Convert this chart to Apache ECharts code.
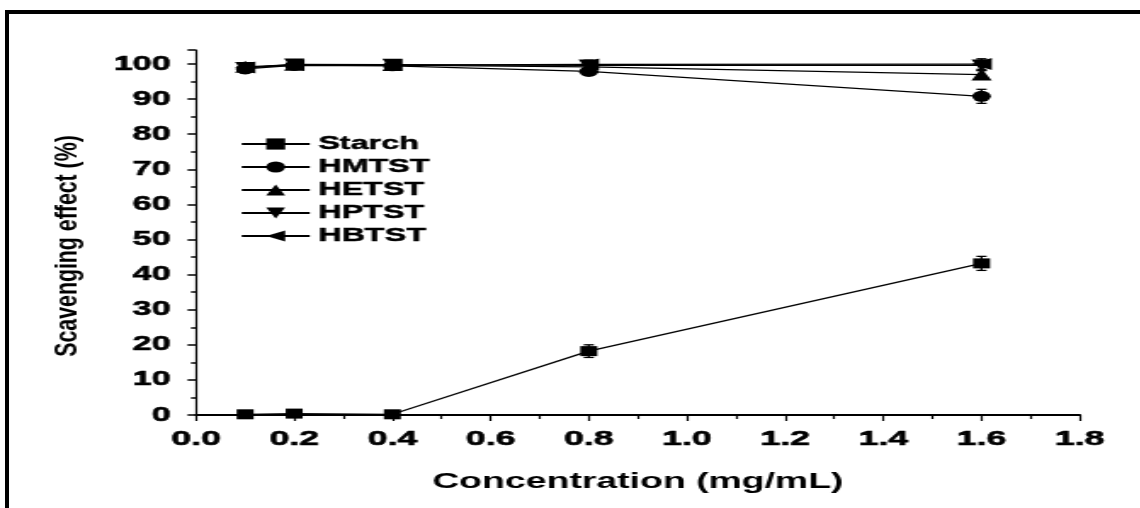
<!DOCTYPE html>
<html>
<head>
<meta charset="utf-8">
<script src="https://cdn.jsdelivr.net/npm/echarts@6/dist/echarts.min.js"></script>
<style>
  html, body { margin: 0; padding: 0; background: #fff; }
  #wrap { position: relative; width: 1140px; height: 508px; overflow: hidden; background: #fff; }
  #frame { position: absolute; left: 5px; top: 10px; width: 1200px; height: 600px;
           border-top: 4px solid #000; border-left: 4px solid #000; box-sizing: border-box; }
  #chart { position: absolute; left: 0; top: 0; height: 508px; transform-origin: 0 0; }
</style>
</head>
<body>
<div id="wrap">
  <div id="frame"></div>
  <div id="chart"></div>
</div>
<script>
// ---- data ----
const concentrations = [0.1, 0.2, 0.4, 0.8, 1.6];
const seriesNames = ['Starch', 'HMTST', 'HETST', 'HPTST', 'HBTST'];
const starch = [0.2, 0.4, 0.2, 18.2, 43.2];
const hmtst  = [98.6, 99.6, 99.5, 97.9, 90.8];
const hetst  = [99.2, 99.8, 99.7, 99.2, 97.0];
const hptst  = [98.9, 99.9, 99.8, 99.6, 99.6];
const hbtst  = [99.0, 99.7, 99.7, 99.9, 100.0];
const starchErr = [0.4, 0.4, 0.3, 1.8, 2.0];
const hmtstErr  = [1.2, 1.0, 0.8, 1.0, 2.0];
const hetstErr  = [1.0, 1.0, 0.8, 1.0, 1.2];
const hptstErr  = [1.0, 0.8, 0.8, 1.2, 1.5];
const hbtstErr  = [1.0, 0.8, 0.8, 1.2, 1.5];
const xTickLabels = ['0.0','0.2','0.4','0.6','0.8','1.0','1.2','1.4','1.6','1.8'];
const yTickLabels = ['0','10','20','30','40','50','60','70','80','90','100'];
const xTitle = 'Concentration (mg/mL)';
const yTitle = 'Scavenging effect (%)';

// ---- layout (horizontal stretch like the reference picture) ----
const K = 1.7;
const W0 = 1140 / K;
const chartDom = document.getElementById('chart');
chartDom.style.width = W0 + 'px';
chartDom.style.transform = 'scaleX(' + K + ')';

const FONT = 'Liberation Sans, Arial, sans-serif';
const values = [starch, hmtst, hetst, hptst, hbtst];
const errors = [starchErr, hmtstErr, hetstErr, hptstErr, hbtstErr];
const symbols = ['rect', 'circle', 'triangle', 'triangle', 'triangle'];
const rotates = [0, 0, 0, 180, 90];
const sizes = [10, 11, 12, 12, 12];

const series = [];
values.forEach((vals, i) => {
  series.push({
    name: seriesNames[i] + ' err',
    type: 'custom',
    data: concentrations.map((c, j) => [c, vals[j], errors[i][j]]),
    renderItem: function (params, api) {
      const x = api.value(0), y = api.value(1), e = api.value(2);
      const top = api.coord([x, y + e]);
      const bot = api.coord([x, y - e]);
      const h = 3;
      const st = { stroke: '#000', lineWidth: 1.3 };
      return {
        type: 'group',
        children: [
          { type: 'line', shape: { x1: top[0], y1: top[1], x2: bot[0], y2: bot[1] }, style: st },
          { type: 'line', shape: { x1: top[0] - h, y1: top[1], x2: top[0] + h, y2: top[1] }, style: st },
          { type: 'line', shape: { x1: bot[0] - h, y1: bot[1], x2: bot[0] + h, y2: bot[1] }, style: st }
        ]
      };
    },
    z: 2,
    silent: true
  });
});
values.forEach((vals, i) => {
  series.push({
    name: seriesNames[i],
    type: 'line',
    data: concentrations.map((c, j) => [c, vals[j]]),
    symbol: symbols[i],
    symbolSize: sizes[i],
    symbolRotate: rotates[i],
    showAllSymbol: true,
    lineStyle: { color: '#000', width: 1.3 },
    itemStyle: { color: '#000', borderWidth: 0 },
    emphasis: { disabled: true },
    z: 3
  });
});

const chart = echarts.init(chartDom);
chart.setOption({
  animation: false,
  backgroundColor: 'transparent',
  grid: { left: 196 / K, right: W0 - 1079 / K, top: 50, bottom: 93, containLabel: false },
  legend: {
    data: seriesNames,
    orient: 'vertical',
    left: 240 / K,
    top: 134,
    padding: 0,
    itemWidth: 40,
    itemHeight: 14,
    itemGap: 3,
    textStyle: { fontFamily: FONT, fontWeight: 'bold', fontSize: 19, color: '#000', lineHeight: 20,
                 textBorderColor: '#000', textBorderWidth: 0.5 },
    selectedMode: false
  },
  xAxis: {
    type: 'value',
    min: 0, max: 1.8, interval: 0.2,
    splitLine: { show: false },
    axisLine: { show: true, onZero: false, lineStyle: { color: '#000', width: 2 } },
    axisTick: { show: true, inside: false, length: 6, lineStyle: { color: '#000', width: 1.2 } },
    minorTick: { show: true, splitNumber: 2, length: 4, lineStyle: { color: '#000', width: 1.2 } },
    axisLabel: {
      margin: 14,
      color: '#000', fontFamily: FONT, fontWeight: 'bold', fontSize: 21,
      textBorderColor: '#000', textBorderWidth: 0.6,
      formatter: function (v) { const idx = Math.round(v / 0.2); return xTickLabels[idx] !== undefined ? xTickLabels[idx] : ''; }
    },
    name: xTitle,
    nameLocation: 'middle',
    nameGap: 56,
    nameTextStyle: { color: '#000', fontFamily: FONT, fontWeight: 'bold', fontSize: 22 }
  },
  yAxis: {
    type: 'value',
    min: 0, max: 104, interval: 10,
    splitLine: { show: false },
    axisLine: { show: true, onZero: false, lineStyle: { color: '#000', width: 1.2 } },
    axisTick: { show: true, inside: false, length: 5, lineStyle: { color: '#000', width: 1.5 } },
    minorTick: { show: true, splitNumber: 2, length: 3, lineStyle: { color: '#000', width: 1.5 } },
    axisLabel: {
      margin: 15,
      color: '#000', fontFamily: FONT, fontWeight: 'bold', fontSize: 20,
      textBorderColor: '#000', textBorderWidth: 0.6,
      formatter: function (v) { const idx = Math.round(v / 10); return yTickLabels[idx] !== undefined ? yTickLabels[idx] : ''; }
    }
  },
  graphic: [{
    type: 'text',
    x: 69 / K,
    y: 246,
    rotation: Math.PI / 2,
    scaleX: 0.82,
    scaleY: 1.15 / K,
    style: {
      text: yTitle,
      fill: '#000',
      font: 'bold 26px "Liberation Sans", Arial, sans-serif',
      align: 'center',
      verticalAlign: 'middle'
    }
  }],
  series: series
});
</script>
</body>
</html>
